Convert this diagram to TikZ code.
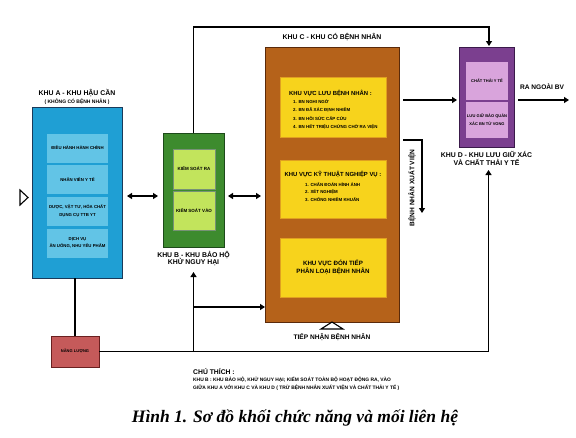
\documentclass[tikz,border=0pt]{standalone}
\usepackage{fontspec}
\setmainfont{Liberation Serif}
\setsansfont{Liberation Sans}
\usetikzlibrary{calc,arrows.meta}
\definecolor{aout}{HTML}{1F9FD4}
\definecolor{aborder}{HTML}{1A3A5A}
\definecolor{ain}{HTML}{62C4E6}
\definecolor{bout}{HTML}{3D8B2E}
\definecolor{bborder}{HTML}{1D4A1A}
\definecolor{bin}{HTML}{C2E45C}
\definecolor{cout}{HTML}{B5621A}
\definecolor{cborder}{HTML}{5A2A0A}
\definecolor{cin}{HTML}{F7D31C}
\definecolor{cinb}{HTML}{E0A020}
\definecolor{dout}{HTML}{7B3F8F}
\definecolor{dborder}{HTML}{3A1A4A}
\definecolor{din}{HTML}{D9A4DC}
\definecolor{rbox}{HTML}{C55A5A}
\definecolor{rborder}{HTML}{6A2020}
\newcommand{\fs}[2]{\fontsize{#1pt}{#2pt}\selectfont}
\tikzset{
  box/.style={rectangle, inner sep=0pt, outer sep=0pt, align=center, text=black},
  outerbox/.style={box, line width=1pt},
  innerbox/.style={box, line width=0.5pt},
  lbl/.style={inner sep=0pt, align=center},
  conn/.style={line width=1.2pt, black},
  arr/.style={conn, -{Triangle[length=5pt,width=6pt]}},
  darr/.style={conn, {Triangle[length=5pt,width=6pt]}-{Triangle[length=5pt,width=6pt]}},
}
\begin{document}
\begin{tikzpicture}[x=1pt,y=-1pt]
\useasboundingbox[fill=white] (0,0) rectangle (576,437);

% KHU A
\node[outerbox, fill=aout, draw=aborder, minimum width=90pt, minimum height=171pt] (A) at (77,192.5) {};
\begin{scope}[every node/.append style={innerbox, fill=ain, minimum width=61pt, minimum height=29pt, font=\sffamily\bfseries\fs{4.3}{7.3}}]
\node (A1) at (77.5,148) {ĐIỀU HÀNH HÀNH CHÍNH};
\node (A2) at (77.5,179.5) {NHÂN VIÊN Y TẾ};
\node (A3) at (77.5,211) {DƯỢC, VẬT TƯ, HÓA CHẤT\\DỤNG CỤ TTB YT};
\node (A4) at (77.5,243) {DỊCH VỤ\\ĂN UỐNG, NHU YẾU PHẨM};
\end{scope}
\node[lbl, font=\sffamily\bfseries\fs{6.9}{8}] (At) at (77,93) {KHU A - KHU HẬU CẦN};
\node[lbl, font=\sffamily\bfseries\fs{5}{6}] (As) at (77,101.5) {( KHÔNG CÓ BỆNH NHÂN )};

% KHU B
\node[outerbox, fill=bout, draw=bborder, minimum width=61pt, minimum height=114pt] (B) at (193.5,190) {};
\begin{scope}[every node/.append style={innerbox, fill=bin, draw=bborder!60, minimum width=42pt, font=\sffamily\bfseries\fs{4.5}{6}}]
\node[minimum height=40pt] (B1) at (194,169) {KIỂM SOÁT RA};
\node[minimum height=39pt] (B2) at (194,211) {KIỂM SOÁT VÀO};
\end{scope}
\node[lbl, font=\sffamily\bfseries\fs{6.9}{7.5}] (Bt) at (193.5,258.5) {KHU B - KHU BẢO HỘ\\KHỬ NGUY HẠI};

% KHU C
\node[outerbox, fill=cout, draw=cborder, minimum width=134pt, minimum height=275pt] (C) at (332,184.5) {};
\node[innerbox, fill=cin, draw=cinb, minimum width=106pt, minimum height=60pt] (C1) at (333,107) {};
\node[lbl, anchor=west, font=\sffamily\bfseries\fs{5.9}{7}] (C1h) at (289,93) {KHU VỰC LƯU BỆNH NHÂN :};
\node[lbl, anchor=north west, align=left, font=\sffamily\bfseries\fs{4.4}{8.2}] (C1i) at (293,99.5) {1. BN NGHI NGỜ\\2. BN ĐÃ XÁC ĐỊNH NHIỄM\\3. BN HỒI SỨC CẤP CỨU\\4. BN HẾT TRIỆU CHỨNG CHỜ RA VIỆN};
\node[innerbox, fill=cin, draw=cinb, minimum width=106pt, minimum height=58pt] (C2) at (333,189) {};
\node[lbl, font=\sffamily\bfseries\fs{5.9}{7}] (C2h) at (333,174) {KHU VỰC KỸ THUẬT NGHIỆP VỤ :};
\node[lbl, anchor=north west, align=left, font=\sffamily\bfseries\fs{4.4}{7.5}] (C2i) at (305,182) {1. CHẨN ĐOÁN HÌNH ẢNH\\2. XÉT NGHIỆM\\3. CHỐNG NHIỄM KHUẨN};
\node[innerbox, fill=cin, draw=cinb, minimum width=106pt, minimum height=59pt, font=\sffamily\bfseries\fs{6.2}{8}] (C3) at (333,267.5) {KHU VỰC ĐÓN TIẾP\\PHÂN LOẠI BỆNH NHÂN};
\node[lbl, font=\sffamily\bfseries\fs{6.9}{8}] (Ct) at (332,37) {KHU C - KHU CÓ BỆNH NHÂN};
\draw[line width=1.1pt] (C.south) -- ++(-11,7) -- ++(22,0) -- cycle;
\node[lbl, font=\sffamily\bfseries\fs{6.6}{8}] (Cb) at (332,337) {TIẾP NHẬN BỆNH NHÂN};

% KHU D
\node[outerbox, fill=dout, draw=dborder, minimum width=55pt, minimum height=100pt] (D) at (486.5,97) {};
\begin{scope}[every node/.append style={innerbox, fill=din, minimum width=42pt, font=\sffamily\bfseries\fs{4.0}{8.3}}]
\node[minimum height=38pt] (D1) at (487,81) {CHẤT THẢI Y TẾ};
\node[minimum height=36pt] (D2) at (487,120) {LƯU GIỮ BẢO QUẢN\\XÁC BN TỬ VONG};
\end{scope}
\node[lbl, font=\sffamily\bfseries\fs{6.9}{7.3}] (Dt) at (486.5,158.5) {KHU D - KHU LƯU GIỮ XÁC\\VÀ CHẤT THẢI Y TẾ};

% NANG LUONG
\node[outerbox, fill=rbox, draw=rborder, minimum width=48pt, minimum height=31pt, font=\sffamily\bfseries\fs{4}{5}] (R) at (75,351.5) {NĂNG LƯỢNG};

% left open triangle
\draw[line width=1.1pt] ($(A.west)+(-12,-2.5)$) -- ($(A.west)+(-4,5)$) -- ($(A.west)+(-12,12.5)$) -- cycle;

% connectors
\draw[darr] ($(A.east)+(5,3.5)$) -- ($(B.west)+(-5,6)$);
\draw[darr] ($(B.east)+(4,6)$) -- ($(C.west)+(-4,11.5)$);
\draw[arr] (B.north) -- ++(0,-106) -| ($(D.north)+(2.5,-1)$);
\draw[arr] ($(C.east)+(4,-84.5)$) -- ($(D.west)+(-2,3)$);
\coordinate (out) at (569,100);
\draw[arr] ($(D.east)+(4,3)$) -- (out);
\node[lbl, font=\sffamily\bfseries\fs{6.6}{8}] (RA) at (542,87) {RA NGOÀI BV};
\draw[arr] ($(C.east)+(4,-44.5)$) -- ++(19,0) -- ++(0,73);
\node[lbl, rotate=90, font=\sffamily\bfseries\fs{6.6}{8}] (XV) at (412,188) {BỆNH NHÂN XUẤT VIỆN};
\draw[conn] (R.north) -- (R.north |- A.south);
\draw[arr] (R.east) -| ($(D.south)+(2,23)$);
\coordinate (jb) at ($(B.south)+(0,60)$);
\draw[arr] (R.east -| B.south) -- ($(B.south)+(0,25)$);
\draw[arr] (jb) -- (jb -| C.west);

% legend
\node[lbl, anchor=west, font=\sffamily\bfseries\fs{6.8}{8}] (L0) at (193,372) {CHÚ THÍCH :};
\node[lbl, anchor=west, font=\sffamily\bfseries\fs{4.9}{6}] (L1) at (193,380) {KHU B : KHU BẢO HỘ, KHỬ NGUY HẠI; KIỂM SOÁT TOÀN BỘ HOẠT ĐỘNG RA, VÀO};
\node[lbl, anchor=west, font=\sffamily\bfseries\fs{4.9}{6}] (L2) at (193,387.5) {GIỮA KHU A VỚI KHU C VÀ KHU D ( TRỪ BỆNH NHÂN XUẤT VIỆN VÀ CHẤT THẢI Y TẾ )};

% caption
\node[inner sep=0pt, font=\rmfamily\bfseries\itshape\fs{17.5}{20}] (cap) at (295,418) {Hình 1. Sơ đồ khối chức năng và mối liên hệ};
\end{tikzpicture}
\end{document}
